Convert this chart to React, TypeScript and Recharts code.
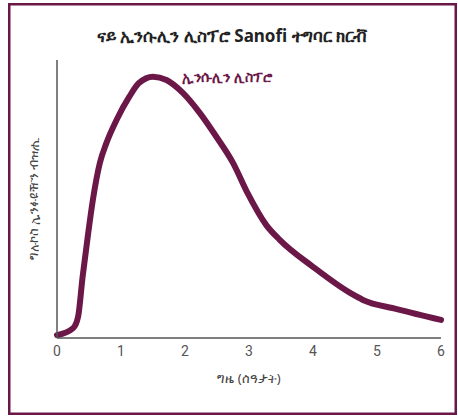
import { LineChart, Line, XAxis, YAxis, Label } from 'recharts'

const hours = [0, 0.25, 0.33, 0.4, 0.48, 0.56, 0.67, 0.77, 0.93, 1.13, 1.28, 1.5, 1.71, 1.97, 2.23, 2.49, 2.75, 2.98, 3.27, 3.48, 4.0, 4.58, 4.78, 5.31, 6.0]
const infusionRate = [1, 3.5, 7.7, 22, 36.4, 49.6, 63, 70, 78.4, 86.8, 91.7, 94, 92.8, 88.1, 81, 72.4, 63, 52, 40.6, 35.3, 25.6, 16.2, 13.7, 10.4, 6.5]
const xTicks = [0, 1, 2, 3, 4, 5, 6]

const data = hours.map((t, i) => ({ t, rate: infusionRate[i] }))

const maroon = '#6b1747'
const font = "'Noto Sans', 'DejaVu Sans', sans-serif"

export default function App() {
  return (
    <div style={{ position: 'absolute', left: 0, top: 0, width: 458, height: 416, background: '#fff', fontFamily: font }}>
      <svg width={458} height={416} style={{ position: 'absolute', left: 0, top: 0 }}>
        <rect x={9.25} y={4.25} width={446.5} height={409.5} fill="none" stroke={maroon} strokeWidth={2.5} />
      </svg>
      <div
        style={{
          position: 'absolute',
          left: 0,
          width: 464,
          top: 24,
          textAlign: 'center',
          fontSize: 17,
          fontWeight: 'bold',
          color: '#222',
          lineHeight: '24px',
        }}
      >
        ናይ ኢንሱሊን ሊስፕሮ Sanofi ተግባር ክርቭ
      </div>
      <div style={{ position: 'absolute', left: 182, top: 68, fontSize: 14, fontWeight: 'bold', color: maroon, lineHeight: '18px' }}>
        ኢንሱሊን ሊስፕሮ
      </div>
      <div style={{ position: 'absolute', left: 0, top: 0 }}>
        <LineChart width={458} height={416} data={data} margin={{ top: 60, right: 17, bottom: 28, left: 9 }}>
          <XAxis
            dataKey="t"
            type="number"
            domain={[0, 6]}
            ticks={xTicks}
            tickLine={false}
            axisLine={{ stroke: '#555', strokeWidth: 1.5 }}
            tick={{ fontSize: 14, fill: '#555', fontFamily: 'Roboto, sans-serif' }}
            height={50}
          >
            <Label value="ግዜ (ሰዓታት)" position="insideBottom" offset={5} style={{ fontSize: 13, fill: '#444' }} />
          </XAxis>
          <YAxis
            type="number"
            domain={[0, 100]}
            tick={false}
            tickLine={false}
            axisLine={{ stroke: '#555', strokeWidth: 1.5 }}
            width={48}
          >
            <Label value="ግሉኮስ ኢንፉዩዥን ብዝሒ" angle={-90} position="center" style={{ fontSize: 13, fill: '#444' }} />
          </YAxis>
          <Line
            type="monotone"
            dataKey="rate"
            stroke={maroon}
            strokeWidth={6}
            dot={false}
            strokeLinecap="round"
            isAnimationActive={false}
          />
        </LineChart>
      </div>
    </div>
  )
}
